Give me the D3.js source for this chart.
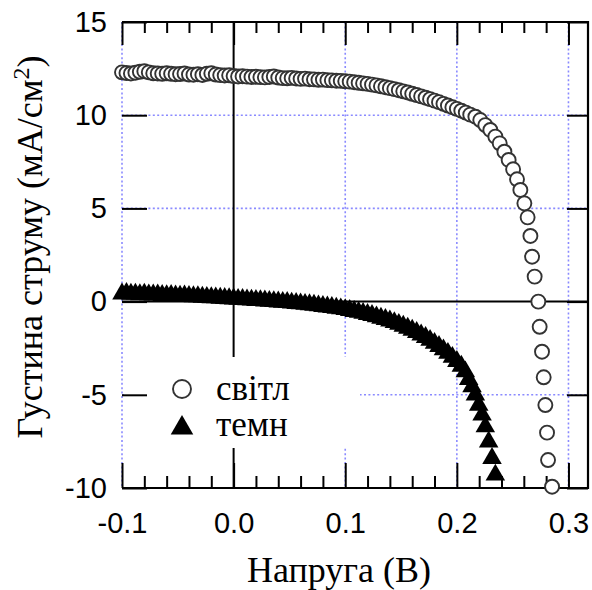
<!DOCTYPE html>
<html lang="uk">
<head>
<meta charset="utf-8">
<title>J-V</title>
<script src="https://d3js.org/d3.v7.min.js"></script>
<style>
  body { margin: 0; background: #fff; }
  .tick text { font-family: "Liberation Sans", Arial, sans-serif; font-size: 29px; fill: #000; }
  .ttl { font-family: "Liberation Serif", "Times New Roman", serif; fill: #000; }
</style>
</head>
<body>
<div id="chart"></div>
<script>
// light (світл) curve
const lightV = [
  -0.100, -0.096, -0.092, -0.088, -0.084, -0.080, -0.076, -0.072, -0.068, -0.064,
  -0.060, -0.056, -0.052, -0.048, -0.044, -0.040, -0.036, -0.032, -0.028, -0.024,
  -0.020, -0.016, -0.012, -0.008, -0.004, 0.000, 0.004, 0.008, 0.012, 0.016,
  0.020, 0.024, 0.028, 0.032, 0.036, 0.040, 0.044, 0.048, 0.052, 0.056,
  0.060, 0.064, 0.068, 0.072, 0.076, 0.080, 0.084, 0.088, 0.092, 0.096,
  0.100, 0.104, 0.108, 0.112, 0.116, 0.120, 0.124, 0.128, 0.132, 0.136,
  0.140, 0.144, 0.148, 0.152, 0.156, 0.160, 0.164, 0.168, 0.172, 0.176,
  0.180, 0.184, 0.188, 0.192, 0.196, 0.200, 0.204, 0.208, 0.212,
  0.2166, 0.2210, 0.2255, 0.2300, 0.2345, 0.2384, 0.2426, 0.2464, 0.2504, 0.2539,
  0.2569, 0.2605, 0.2634, 0.2659, 0.2674, 0.2697, 0.2730,
  0.2742, 0.2763, 0.2778, 0.2793, 0.2808, 0.2817, 0.2853
];
const lightJ = [
  12.30, 12.26, 12.24, 12.28, 12.33, 12.36, 12.30, 12.25, 12.24, 12.22,
  12.25, 12.22, 12.20, 12.21, 12.24, 12.18, 12.17, 12.20, 12.16, 12.22,
  12.25, 12.18, 12.15, 12.13, 12.14, 12.10, 12.08, 12.09, 12.07, 12.05,
  12.06, 12.04, 12.03, 12.05, 12.08, 12.02, 11.99, 11.98, 12.00, 11.97,
  11.95, 11.96, 11.93, 11.92, 11.90, 11.91, 11.88, 11.87, 11.85, 11.84,
  11.82, 11.80, 11.77, 11.74, 11.71, 11.68, 11.64, 11.60, 11.55, 11.50,
  11.45, 11.40, 11.34, 11.28, 11.22, 11.15, 11.08, 11.01, 10.94, 10.86,
  10.78, 10.70, 10.61, 10.52, 10.43, 10.34, 10.24, 10.14, 10.03,
  9.92, 9.74, 9.47, 9.21, 8.85, 8.49, 8.04, 7.60, 7.10, 6.56,
  5.99, 5.27, 4.52, 3.52, 2.41, 1.34, 0.00,
  -1.35, -2.69, -4.06, -5.55, -7.03, -8.50, -9.93
];

// dark (темн) curve
const darkV = [
  -0.100, -0.096, -0.092, -0.088, -0.084, -0.080, -0.076, -0.072, -0.068, -0.064,
  -0.060, -0.056, -0.052, -0.048, -0.044, -0.040, -0.036, -0.032, -0.028, -0.024,
  -0.020, -0.016, -0.012, -0.008, -0.004, 0.000, 0.004, 0.008, 0.012, 0.016,
  0.020, 0.024, 0.028, 0.032, 0.036, 0.040, 0.044, 0.048, 0.052, 0.056,
  0.060, 0.064, 0.068, 0.072, 0.076, 0.080, 0.084, 0.088, 0.092, 0.096,
  0.100, 0.104, 0.108, 0.112, 0.116, 0.120, 0.124, 0.128, 0.132, 0.136,
  0.140, 0.144, 0.148, 0.152, 0.156, 0.160, 0.164, 0.168, 0.172, 0.176,
  0.180, 0.184, 0.188, 0.192, 0.196, 0.200, 0.204,
  0.2076, 0.2106, 0.2136, 0.2166, 0.2196, 0.2226, 0.2255, 0.2285, 0.2315, 0.2345
];
const darkJ = [
  0.42, 0.45, 0.40, 0.41, 0.38, 0.40, 0.37, 0.36, 0.37, 0.34,
  0.33, 0.34, 0.31, 0.30, 0.31, 0.28, 0.27, 0.27, 0.24, 0.23,
  0.22, 0.21, 0.19, 0.18, 0.16, 0.15, 0.13, 0.12, 0.10, 0.09,
  0.07, 0.06, 0.04, 0.02, 0.01, -0.01, -0.03, -0.04, -0.07, -0.09,
  -0.11, -0.14, -0.16, -0.19, -0.22, -0.25, -0.28, -0.31, -0.35, -0.38,
  -0.42, -0.47, -0.52, -0.57, -0.62, -0.68, -0.74, -0.81, -0.88, -0.95,
  -1.03, -1.12, -1.21, -1.31, -1.42, -1.53, -1.65, -1.78, -1.92, -2.07,
  -2.23, -2.40, -2.58, -2.77, -2.98, -3.20, -3.46,
  -3.76, -4.17, -4.56, -5.00, -5.55, -6.08, -6.71, -7.52, -8.41, -9.30
];

const xMajor = [-0.1, 0.0, 0.1, 0.2, 0.3];
const xMinor = [-0.08, -0.06, -0.04, -0.02, 0.02, 0.04, 0.06, 0.08,
                0.12, 0.14, 0.16, 0.18, 0.22, 0.24, 0.26, 0.28];
const yMajor = [-10, -5, 0, 5, 10, 15];
const xGrid = [-0.1, 0.1, 0.2, 0.3];
const yGrid = [-5, 5, 10];
const legendLabels = ["світл", "темн"];

const W = 592, H = 590;
const pL = 122, pR = 588, pT = 22, pB = 488;

const svg = d3.select("#chart").append("svg")
    .attr("width", W)
    .attr("height", H);

const x = d3.scaleLinear().domain([-0.1, 0.3175]).range([pL, pR]);
const y = d3.scaleLinear().domain([-10, 15]).range([pB, pT]);

// dotted blue grid
const grid = svg.append("g")
    .attr("stroke", "#8a8aff")
    .attr("stroke-width", 1.6)
    .attr("stroke-dasharray", "2,2.4");
grid.selectAll(".gx").data(xGrid).enter().append("line")
    .attr("x1", d => x(d)).attr("x2", d => x(d))
    .attr("y1", pT).attr("y2", pB);
grid.selectAll(".gy").data(yGrid).enter().append("line")
    .attr("x1", pL).attr("x2", pR)
    .attr("y1", d => y(d)).attr("y2", d => y(d));

// zero lines
svg.append("line")
    .attr("x1", pL).attr("x2", pR)
    .attr("y1", y(0)).attr("y2", y(0))
    .attr("stroke", "#000").attr("stroke-width", 2);
svg.append("line")
    .attr("x1", x(0)).attr("x2", x(0))
    .attr("y1", pT).attr("y2", pB)
    .attr("stroke", "#000").attr("stroke-width", 2);

// legend background hides the grid behind it
svg.append("rect")
    .attr("x", pL + 2).attr("y", 357)
    .attr("width", 236).attr("height", 91)
    .attr("fill", "#fff");

// axes (ticks point inward)
const fmtX = d => d.toFixed(1);
const fmtY = d => String(d);

function axisStyle(g) {
  g.select(".domain").remove();
  g.selectAll(".tick line").attr("stroke", "#000").attr("stroke-width", 2);
}

svg.append("g")
    .attr("transform", `translate(0,${pB})`)
    .call(d3.axisBottom(x).tickValues(xMajor).tickSize(-25).tickPadding(24).tickFormat(fmtX))
    .call(axisStyle)
    .call(g => g.attr("font-size", null).attr("font-family", null));
svg.append("g")
    .attr("transform", `translate(0,${pB})`)
    .call(d3.axisBottom(x).tickValues(xMinor).tickSize(-12).tickFormat(""))
    .call(axisStyle);
svg.append("g")
    .attr("transform", `translate(0,${pT})`)
    .call(d3.axisTop(x).tickValues(xMajor).tickSize(-23).tickFormat(""))
    .call(axisStyle);
svg.append("g")
    .attr("transform", `translate(0,${pT})`)
    .call(d3.axisTop(x).tickValues(xMinor).tickSize(-11).tickFormat(""))
    .call(axisStyle);
svg.append("g")
    .attr("transform", `translate(${pL},0)`)
    .call(d3.axisLeft(y).tickValues(yMajor).tickSize(-25).tickPadding(15).tickFormat(fmtY))
    .call(axisStyle)
    .call(g => g.attr("font-size", null).attr("font-family", null));
svg.append("g")
    .attr("transform", `translate(${pR},0)`)
    .call(d3.axisRight(y).tickValues(yMajor).tickSize(-21).tickFormat(""))
    .call(axisStyle);

// frame: top, bottom, right
svg.append("path")
    .attr("d", `M${pL},${pT}H${pR}V${pB}H${pL}`)
    .attr("fill", "none")
    .attr("stroke", "#000")
    .attr("stroke-width", 2.2);

// data
const light = lightV.map((v, i) => ({v: v, j: lightJ[i]}));
const dark = darkV.map((v, i) => ({v: v, j: darkJ[i]}));

svg.append("g").selectAll("circle").data(light).enter().append("circle")
    .attr("cx", d => x(d.v))
    .attr("cy", d => y(d.j))
    .attr("r", 7)
    .attr("fill", "#fff")
    .attr("stroke", "#333")
    .attr("stroke-width", 1.9);

const tri = d3.symbol().type(d3.symbolTriangle).size(165);
svg.append("g").selectAll("path").data(dark).enter().append("path")
    .attr("d", tri)
    .attr("transform", d => `translate(${x(d.v)},${y(d.j)})`)
    .attr("fill", "#000");

// legend
svg.append("circle")
    .attr("cx", 182).attr("cy", 389).attr("r", 9)
    .attr("fill", "#fff").attr("stroke", "#333").attr("stroke-width", 1.9);
svg.append("path")
    .attr("d", d3.symbol().type(d3.symbolTriangle).size(220)())
    .attr("transform", "translate(182,428)")
    .attr("fill", "#000");
svg.selectAll(".leg").data(legendLabels).enter().append("text")
    .attr("class", "ttl")
    .attr("x", 216)
    .attr("y", (d, i) => 400 + i * 36)
    .attr("font-size", 35)
    .text(d => d);

// axis titles
svg.append("text")
    .attr("class", "ttl")
    .attr("x", 339).attr("y", 582)
    .attr("text-anchor", "middle")
    .attr("font-size", 36)
    .text("Напруга (В)");

const yt = svg.append("text")
    .attr("class", "ttl")
    .attr("transform", "translate(42,247) rotate(-90)")
    .attr("text-anchor", "middle")
    .attr("font-size", 36);
yt.append("tspan").text("Густина струму (мА/см");
yt.append("tspan").attr("dy", -13).attr("font-size", 24).text("2");
yt.append("tspan").attr("dy", 13).text(")");
</script>
</body>
</html>
